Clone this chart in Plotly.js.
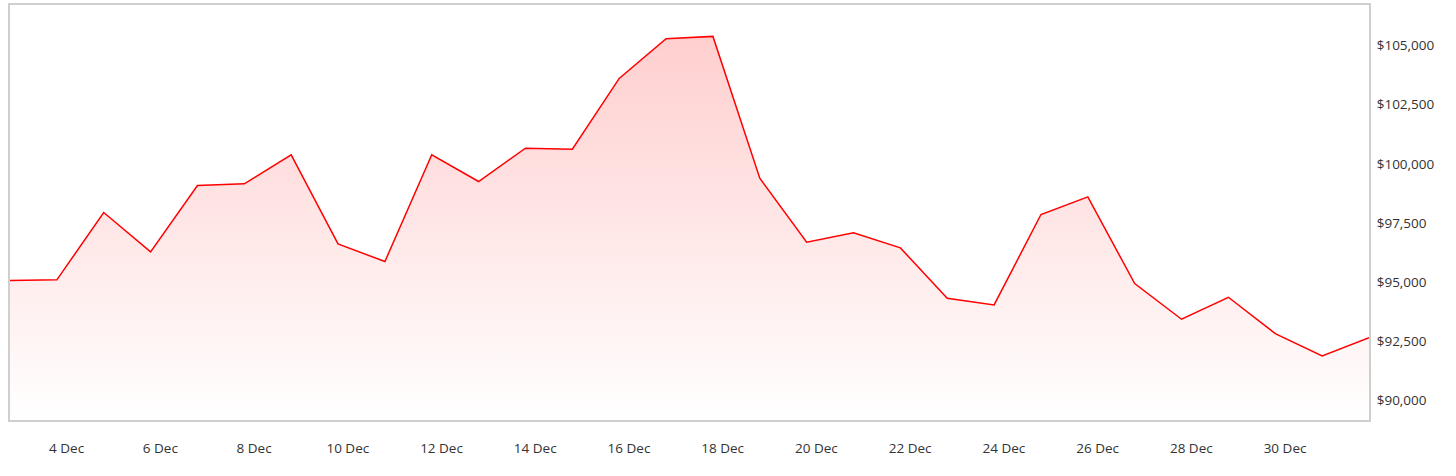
<!DOCTYPE html>
<html>
<head>
<meta charset="utf-8">
<script src="https://cdn.plot.ly/plotly-3.0.1.min.js"></script>
<style>
  html, body { margin: 0; padding: 0; background: #fff; }
  #chart { width: 1456px; height: 476px; }
</style>
</head>
<body>
<div id="chart"></div>
<script>
// Timestamps of the daily points (shown at 19:00 local, i.e. UTC midnight at -5h)
const dates = [
  '2024-12-02 19:00', '2024-12-03 19:00', '2024-12-04 19:00', '2024-12-05 19:00',
  '2024-12-06 19:00', '2024-12-07 19:00', '2024-12-08 19:00', '2024-12-09 19:00',
  '2024-12-10 19:00', '2024-12-11 19:00', '2024-12-12 19:00', '2024-12-13 19:00',
  '2024-12-14 19:00', '2024-12-15 19:00', '2024-12-16 19:00', '2024-12-17 19:00',
  '2024-12-18 19:00', '2024-12-19 19:00', '2024-12-20 19:00', '2024-12-21 19:00',
  '2024-12-22 19:00', '2024-12-23 19:00', '2024-12-24 19:00', '2024-12-25 19:00',
  '2024-12-26 19:00', '2024-12-27 19:00', '2024-12-28 19:00', '2024-12-29 19:00',
  '2024-12-30 19:00', '2024-12-31 19:00'
];

// Price in USD
const prices = [
  95070, 95100, 97944, 96282, 99085, 99155, 100380, 96620,
  95873, 100380, 99253, 100662, 100620, 103605, 105282, 105380,
  99394, 96690, 97085, 96451, 94324, 94042, 97859, 98606,
  94944, 93437, 94366, 92831, 91887, 92662
];

const yTickVals = [90000, 92500, 95000, 97500, 100000, 102500, 105000];
const yTickText = ['$90,000', '$92,500', '$95,000', '$97,500', '$100,000', '$102,500', '$105,000'];
const yRange = [89183, 106706];

const trace = {
  x: dates,
  y: prices,
  type: 'scatter',
  mode: 'lines',
  line: { color: '#ff0000', width: 1.5 },
  fill: 'tozeroy',
  fillgradient: {
    type: 'vertical',
    start: yRange[0],
    stop: Math.max.apply(null, prices),
    colorscale: [[0, 'rgba(255,0,0,0.0)'], [1, 'rgba(255,0,0,0.19)']]
  },
  hoverinfo: 'x+y'
};

const layout = {
  width: 1456,
  height: 476,
  margin: { l: 10, r: 86.5, t: 5.3, b: 56, pad: 0 },
  paper_bgcolor: '#ffffff',
  plot_bgcolor: '#ffffff',
  showlegend: false,
  font: { family: 'Open Sans, sans-serif', size: 13.5, color: '#333333' },
  xaxis: {
    type: 'date',
    range: [dates[0], dates[dates.length - 1]],
    tick0: '2024-12-04',
    dtick: 2 * 86400000,
    tickformat: '%-d %b',
    showgrid: false,
    zeroline: false,
    showline: true,
    mirror: true,
    linecolor: '#cfcfcf',
    linewidth: 2,
    ticks: '',
    ticklabelstandoff: 15,
    tickfont: { family: 'Open Sans, sans-serif', size: 13.5, color: '#333333' }
  },
  yaxis: {
    side: 'right',
    range: yRange,
    tickvals: yTickVals,
    ticktext: yTickText,
    showgrid: false,
    zeroline: false,
    showline: true,
    mirror: true,
    linecolor: '#cfcfcf',
    linewidth: 2,
    ticks: '',
    ticklabelstandoff: 3,
    tickfont: { family: 'Open Sans, sans-serif', size: 13.5, color: '#333333' }
  }
};

Plotly.newPlot('chart', [trace], layout, { displayModeBar: false, staticPlot: true });
</script>
</body>
</html>
